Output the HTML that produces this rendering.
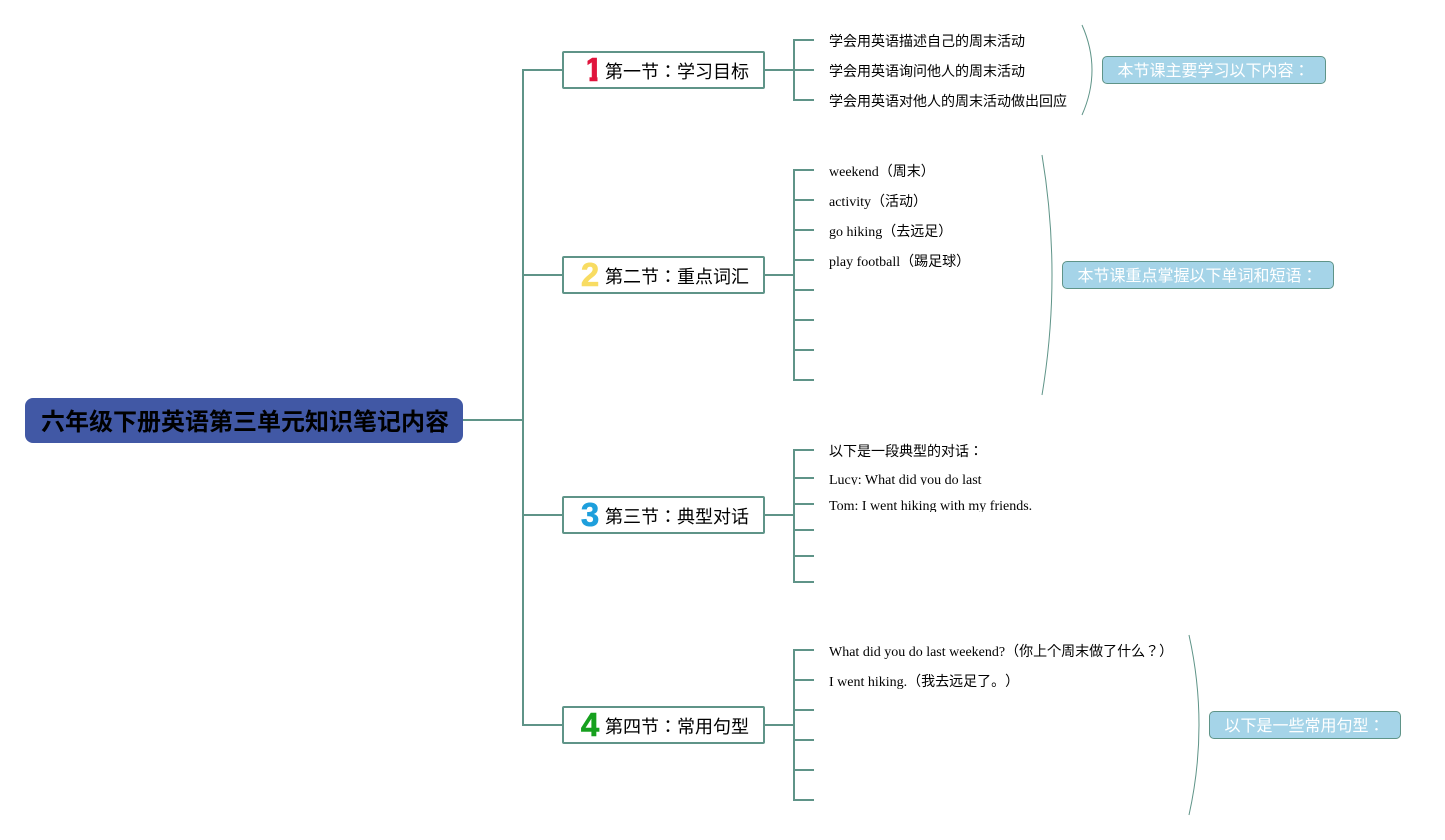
<!DOCTYPE html>
<html><head><meta charset="utf-8">
<style>
html,body{margin:0;padding:0;background:#fff;width:1445px;height:840px;overflow:hidden;text-spacing-trim:space-all}
svg{position:absolute;left:0;top:0}
.t{position:absolute;white-space:nowrap;font-family:"Liberation Serif","Noto Sans CJK JP",serif;font-size:14px;color:#000;line-height:20px;height:20px;overflow:hidden}
.s{position:absolute;white-space:nowrap;font-family:"Noto Sans CJK JP",sans-serif;font-size:18px;color:#000;line-height:26px}
.b{position:absolute;box-sizing:border-box;background:#fff;border:2px solid #5f9488;border-radius:2px}
.n{position:absolute;box-sizing:border-box;background:#a5d4e8;border:1px solid #5f9488;border-radius:5px;color:#fff;font-family:"Noto Sans CJK JP",sans-serif;font-size:16px;text-align:center;line-height:28px;white-space:nowrap}
.i{position:absolute;font-family:"Liberation Sans",sans-serif;font-weight:bold;font-size:33px;line-height:34px;width:24px;text-align:center;-webkit-text-stroke:.6px currentColor}
</style></head><body>
<svg width="1445" height="840" fill="none">
<g stroke="#5f9488" stroke-width="2">
<path d="M463 420H523M563 70H523V725H563M523 275H563M523 515H563"/>
<path d="M764 70H794M814 40H794V100H814M794 70H814"/>
<path d="M764 275H794M814 170H794V380H814M794 200H814M794 230H814M794 260H814M794 290H814M794 320H814M794 350H814"/>
<path d="M764 515H794M814 450H794V582H814M794 478H814M794 504H814M794 530H814M794 556H814"/>
<path d="M764 725H794M814 650H794V800H814M794 680H814M794 710H814M794 740H814M794 770H814"/>
</g>
<g stroke="#5f9488" stroke-width="1">
<path d="M1082 25Q1102 70 1082 115"/>
<path d="M1042 155Q1062 275 1042 395"/>
<path d="M1189 635Q1209 725 1189 815"/>
</g>
</svg>

<div style="position:absolute;left:25px;top:398px;width:438px;height:44.5px;background:#4158a5;border-radius:8px"></div>
<div class="s" style="left:41px;top:405px;font-size:24px;line-height:30px;font-weight:bold;">六年级下册英语第三单元知识笔记内容</div>

<div class="b" style="left:562px;top:51px;width:203px;height:38px"></div>
<div class="b" style="left:562px;top:256px;width:203px;height:38px"></div>
<div class="b" style="left:562px;top:496px;width:203px;height:38px"></div>
<div class="b" style="left:562px;top:706px;width:203px;height:38px"></div>

<div class="i" style="left:581.5px;top:53px;color:#e0143c;clip-path:polygon(6px 0,16px 0,16px 34px,8px 34px,8px 24px,6px 24px)">1</div>
<div class="i" style="left:578px;top:258px;color:#f8dc62">2</div>
<div class="i" style="left:578px;top:498px;color:#1e9fdc">3</div>
<div class="i" style="left:578px;top:708px;color:#16a01e">4</div>

<div class="s" style="left:605px;top:58px">第一节：学习目标</div>
<div class="s" style="left:605px;top:263px">第二节：重点词汇</div>
<div class="s" style="left:605px;top:503px">第三节：典型对话</div>
<div class="s" style="left:605px;top:713px">第四节：常用句型</div>

<div class="t" style="left:829px;top:33px">学会用英语描述自己的周末活动</div>
<div class="t" style="left:829px;top:63px">学会用英语询问他人的周末活动</div>
<div class="t" style="left:829px;top:93px">学会用英语对他人的周末活动做出回应</div>

<div class="t" style="left:829px;top:163px">weekend（周末）</div>
<div class="t" style="left:829px;top:193px">activity（活动）</div>
<div class="t" style="left:829px;top:223px">go hiking（去远足）</div>
<div class="t" style="left:829px;top:253px">play football（踢足球）</div>

<div class="t" style="left:829px;top:443px">以下是一段典型的对话：</div>
<div class="t" style="left:829px;top:471px;height:14px">Lucy: What did you do last</div>
<div class="t" style="left:829px;top:497px;height:15px">Tom: I went hiking with my friends.</div>

<div class="t" style="left:829px;top:643px">What did you do last weekend?（你上个周末做了什么？）</div>
<div class="t" style="left:829px;top:673px">I went hiking.（我去远足了。）</div>

<div class="n" style="left:1101.5px;top:56px;width:224px;height:28px"><span style="position:relative;top:-2px">本节课主要学习以下内容：</span></div>
<div class="n" style="left:1061.5px;top:261px;width:272px;height:28px"><span style="position:relative;top:-2px">本节课重点掌握以下单词和短语：</span></div>
<div class="n" style="left:1208.5px;top:711px;width:192px;height:28px"><span style="position:relative;top:-2px">以下是一些常用句型：</span></div>
</body></html>
